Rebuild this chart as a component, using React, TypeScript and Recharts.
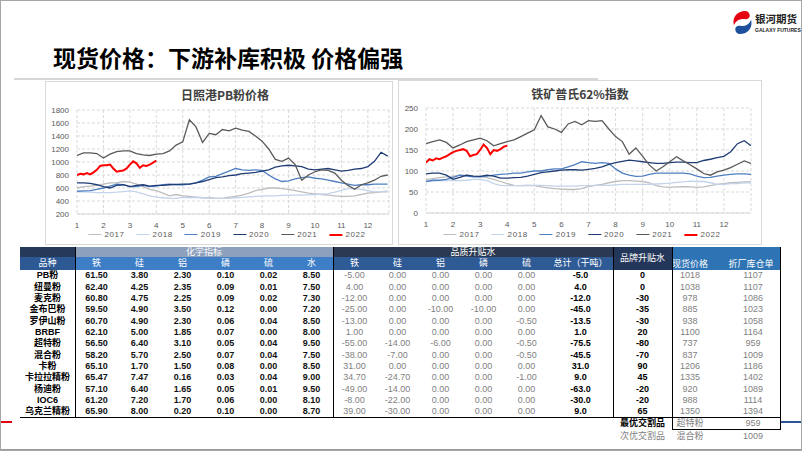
import { CartesianGrid, Line, LineChart, XAxis, YAxis } from "recharts";

const FONT = '"Liberation Sans", "Noto Sans CJK SC", sans-serif';
const CJK = '"Noto Sans CJK SC", "Liberation Sans", sans-serif';

const MONTHS = [1, 2, 3, 4, 5, 6, 7, 8, 9, 10, 11, 12];
const YEARS = ["2017", "2018", "2019", "2020", "2021", "2022"];
const COLORS = ["#bdbdbd", "#c3d3ea", "#4f7fc0", "#1f3c74", "#595959", "#ff0000"];

// 日照港PB粉 (元/吨), weekly-ish from month 1
const pb2017 = [600, 620, 630, 640, 660, 680, 680, 700, 690, 660, 620, 580, 560, 520, 480, 500, 480, 470, 460, 450, 450, 440, 440, 460, 470, 490, 520, 560, 580, 600, 600, 590, 580, 560, 540, 520, 510, 500, 490, 480, 470, 470, 480, 500, 520, 530, 540, 540];
const pb2018 = [540, 540, 535, 530, 530, 530, 535, 545, 555, 540, 510, 480, 460, 450, 440, 440, 455, 450, 455, 450, 445, 440, 440, 440, 450, 455, 465, 470, 475, 480, 480, 485, 490, 490, 490, 495, 500, 505, 515, 535, 565, 590, 590, 580, 560, 540, 545, 555];
const pb2019 = [550, 555, 560, 580, 600, 630, 660, 650, 620, 620, 640, 620, 630, 650, 660, 650, 650, 660, 680, 720, 770, 780, 820, 860, 900, 880, 870, 880, 870, 800, 740, 700, 710, 740, 760, 770, 750, 740, 720, 700, 680, 660, 640, 650, 650, 660, 660, 660];
const pb2020 = [680, 680, 670, 650, 620, 600, 640, 650, 620, 640, 650, 630, 640, 640, 650, 655, 660, 660, 680, 700, 730, 760, 770, 790, 800, 820, 830, 840, 860, 880, 920, 940, 950, 940, 930, 890, 880, 890, 900, 880, 860, 870, 890, 900, 930, 1010, 1150, 1090];
const pb2021 = [1100, 1140, 1140, 1130, 1060, 1120, 1160, 1170, 1170, 1130, 1110, 1100, 1120, 1130, 1170, 1260, 1310, 1650, 1540, 1300, 1440, 1420, 1500, 1480, 1520, 1490, 1470, 1400, 1320, 1200, 1040, 1010, 1060, 960, 720, 800, 850, 880, 870, 830, 720, 640, 580, 650, 680, 720, 780, 800];
const pb2022 = [800, 820, 810, 830, 810, 840, 880, 940, 950, 950, 960, 900, 850, 860, 870, 900, 960, 1010, 980, 910, 950, 940, 960, 990, 1020];
const PB_TICKS = [200, 400, 600, 800, 1000, 1200, 1400, 1600, 1800];

// 普氏62%指数 (美元/吨)
const pl2017 = [80, 82, 84, 86, 88, 90, 90, 88, 87, 84, 80, 75, 70, 66, 65, 66, 65, 62, 60, 58, 57, 56, 56, 58, 63, 66, 68, 72, 75, 77, 77, 76, 75, 72, 65, 62, 61, 62, 63, 62, 61, 62, 65, 68, 70, 72, 73, 74, 74];
const pl2018 = [75, 76, 77, 77, 78, 77, 78, 80, 80, 77, 70, 66, 65, 65, 65, 66, 66, 66, 65, 64, 64, 64, 64, 65, 65, 66, 66, 66, 67, 68, 68, 68, 68, 68, 69, 70, 71, 73, 74, 76, 75, 75, 72, 68, 68, 70, 70, 72, 72];
const pl2019 = [75, 78, 78, 80, 85, 90, 88, 86, 86, 88, 90, 92, 93, 95, 95, 98, 100, 100, 103, 105, 105, 110, 115, 122, 120, 118, 120, 118, 105, 95, 90, 87, 88, 92, 95, 95, 95, 95, 95, 93, 88, 84, 85, 88, 90, 92, 93, 93, 92];
const pl2020 = [93, 95, 95, 90, 80, 85, 90, 88, 87, 90, 88, 83, 83, 84, 85, 88, 92, 96, 98, 100, 102, 103, 103, 102, 104, 106, 110, 116, 120, 123, 126, 124, 122, 120, 118, 118, 120, 121, 121, 120, 120, 125, 128, 132, 135, 146, 165, 172, 160];
const pl2021 = [165, 170, 174, 168, 155, 162, 170, 174, 178, 172, 160, 165, 170, 174, 182, 190, 198, 232, 205, 200, 192, 212, 218, 210, 220, 218, 220, 200, 182, 170, 140, 155, 135, 114, 100, 110, 122, 134, 124, 115, 105, 94, 90, 98, 102, 108, 116, 124, 118];
const pl2022 = [120, 128, 125, 130, 128, 132, 135, 140, 145, 148, 150, 152, 148, 135, 138, 140, 150, 163, 155, 140, 150, 148, 152, 158, 160];
const PL_TICKS = [0, 50, 100, 150, 200, 250];

// table
const NAMES = ["PB粉", "纽曼粉", "麦克粉", "金布巴粉", "罗伊山粉", "BRBF", "超特粉", "混合粉", "卡粉", "卡拉拉精粉", "杨迪粉", "IOC6", "乌克兰精粉"];
const CHEM_HEADS = ["铁", "硅", "铝", "磷", "硫", "水"];
const chemFe = [61.5, 62.4, 60.8, 59.5, 60.7, 62.1, 56.5, 58.2, 65.1, 65.47, 57.1, 61.2, 65.9];
const chemSi = [3.8, 4.25, 4.75, 4.9, 4.9, 5.0, 6.4, 5.7, 1.7, 7.47, 6.4, 7.2, 8.0];
const chemAl = [2.3, 2.35, 2.25, 3.5, 2.3, 1.85, 3.1, 2.5, 1.5, 0.16, 1.65, 1.7, 0.2];
const chemP = [0.1, 0.09, 0.09, 0.12, 0.06, 0.07, 0.05, 0.07, 0.08, 0.03, 0.05, 0.06, 0.1];
const chemS = [0.02, 0.01, 0.02, 0.0, 0.04, 0.0, 0.04, 0.04, 0.0, 0.04, 0.01, 0.0, 0.0];
const chemH2O = [8.5, 7.5, 7.3, 7.2, 8.5, 8.0, 9.5, 7.5, 8.5, 9.0, 9.5, 8.1, 8.7];
const Q_HEADS = ["铁", "硅", "铝", "磷", "硫", "总计（干吨）"];
const qFe = [-5, 4, -12, -25, -13, 1, -55, -38, 31, 34.7, -49, -8, 39];
const qSi = [0, 0, 0, 0, 0, 0, -14, -7, 0, -24.7, -14, -22, -30];
const qAl = [0, 0, 0, -10, 0, 0, -6, 0, 0, 0, 0, 0, 0];
const qP = [0, 0, 0, -10, 0, 0, 0, 0, 0, 0, 0, 0, 0];
const qS = [0, 0, 0, 0, -0.5, 0, -0.5, -0.5, 0, -1, 0, 0, 0];
const qTotal = [-5, 4, -12, -45, -13.5, 1, -75.5, -45.5, 31, 9, -63, -30, 9];
const brand = [0, 0, -30, -35, -30, 20, -80, -70, 90, 45, -20, -20, 65];
const spot = [1018, 1038, 978, 885, 938, 1100, 737, 837, 1206, 1335, 920, 988, 1350];
const warehouse = [1107, 1107, 1086, 1023, 1058, 1164, 959, 1009, 1186, 1402, 1089, 1114, 1394];
const BEST = ["最优交割品", "超特粉", "959"];
const SECOND = ["次优交割品", "混合粉", "1009"];

const toPoints = (vals: number[], step: number) => vals.map((v, i) => ({ x: 1 + i * step, v }));

function YearChart({
  series,
  width,
  height,
  margin,
  yWidth,
  xHeight,
  xMax,
  yTicks,
}: {
  series: number[][];
  width: number;
  height: number;
  margin: { top: number; right: number; bottom: number; left: number };
  yWidth: number;
  xHeight: number;
  xMax: number;
  yTicks: number[];
}) {
  const tick = { fontSize: 8, fill: "#595959", fontFamily: FONT };
  return (
    <LineChart width={width} height={height} margin={margin}>
      <CartesianGrid stroke="#d9d9d9" strokeDasharray="3 2" />
      <XAxis
        type="number"
        dataKey="x"
        domain={[1, xMax]}
        ticks={MONTHS}
        interval={0}
        allowDataOverflow
        tickLine={false}
        axisLine={{ stroke: "#d9d9d9" }}
        tick={tick}
        height={xHeight}
      />
      <YAxis
        type="number"
        domain={[yTicks[0], yTicks[yTicks.length - 1]]}
        ticks={yTicks}
        interval={0}
        width={yWidth}
        tickLine={false}
        axisLine={false}
        tick={tick}
      />
      {series.map((s, i) => (
        <Line
          key={YEARS[i]}
          data={toPoints(s, i === 5 ? 0.125 : 0.25)}
          dataKey="v"
          type="linear"
          stroke={COLORS[i]}
          strokeWidth={i === 5 ? 2 : 1.3}
          dot={false}
          isAnimationActive={false}
        />
      ))}
    </LineChart>
  );
}

function YearLegend({ cx, top }: { cx: number; top: number }) {
  return (
    <div
      style={{
        position: "absolute",
        left: cx,
        top,
        transform: "translateX(-50%)",
        display: "flex",
        gap: 12,
        fontSize: 8,
        color: "#595959",
        fontFamily: FONT,
        whiteSpace: "nowrap",
        letterSpacing: 0.6,
      }}
    >
      {YEARS.map((y, i) => (
        <div key={y} style={{ display: "flex", alignItems: "center", gap: 3 }}>
          <span style={{ width: 13, height: i === 5 ? 2 : 1.5, background: COLORS[i] }} />
          <span>{y}</span>
        </div>
      ))}
    </div>
  );
}

type Col = { l: number; r: number };
const chemCols: Col[] = CHEM_HEADS.map((_, i) => ({ l: 75 + 43 * i, r: 118 + 43 * i }));
const qCols: Col[] = [0, 1, 2, 3, 4].map((i) => ({ l: 333 + 43 * i, r: 376 + 43 * i })).concat([{ l: 548, r: 613 }]);
const nameCol: Col = { l: 20, r: 75 };
const brandCol: Col = { l: 613, r: 672 };
const spotCol: Col = { l: 672, r: 708 };
const whCol: Col = { l: 724, r: 782 };

const ROW_TOP = 270.3;
const ROW_H = 11.32;

function T({
  col,
  top,
  h,
  text,
  color = "#000",
  bold = false,
  size = 9,
}: {
  col: Col;
  top: number;
  h: number;
  text: string;
  color?: string;
  bold?: boolean;
  size?: number;
}) {
  return (
    <div
      style={{
        position: "absolute",
        left: col.l,
        width: col.r - col.l,
        top,
        height: h,
        lineHeight: `${h}px`,
        textAlign: "center",
        fontSize: size,
        fontWeight: bold ? 700 : 400,
        color,
        fontFamily: FONT,
        whiteSpace: "nowrap",
      }}
    >
      {text}
    </div>
  );
}

function Box({ l, t, w, h, bg }: { l: number; t: number; w: number; h: number; bg: string }) {
  return <div style={{ position: "absolute", left: l, top: t, width: w, height: h, background: bg }} />;
}

function PriceTable() {
  const chem = [chemFe, chemSi, chemAl, chemP, chemS, chemH2O];
  const qual = [qFe, qSi, qAl, qP, qS];
  const gray = "#7f7f7f";
  return (
    <>
      {/* header backgrounds */}
      <Box l={20} t={246.5} w={55} h={10.5} bg="#25395a" />
      <Box l={20} t={257} w={55} h={13.3} bg="#2c5894" />
      <Box l={75} t={246.5} w={258} h={10.5} bg="#8ea1bc" />
      <Box l={75} t={257} w={258} h={13.3} bg="#3d7ec6" />
      <Box l={333} t={246.5} w={280} h={10.5} bg="#2b3a52" />
      <Box l={333} t={257} w={280} h={13.3} bg="#2e5a96" />
      <Box l={613} t={246.5} w={59} h={23.8} bg="#23375a" />
      <Box l={672} t={246.5} w={108} h={23.8} bg="#2e74b5" />
      <T col={{ l: 75, r: 333 }} top={246.5} h={10.5} text="化学指标" color="#fff" />
      <T col={{ l: 333, r: 613 }} top={246.5} h={10.5} text="品质升贴水" color="#fff" />
      <T col={brandCol} top={252} h={12} text="品牌升贴水" color="#fff" />
      <T col={nameCol} top={257} h={13.3} text="品种" color="#fff" />
      {CHEM_HEADS.map((h, i) => (
        <T key={"ch" + i} col={chemCols[i]} top={257} h={13.3} text={h} color="#fff" />
      ))}
      {Q_HEADS.map((h, i) => (
        <T key={"qh" + i} col={qCols[i]} top={257} h={13.3} text={h} color="#fff" />
      ))}
      <T col={spotCol} top={258} h={13.3} text="现货价格" color="#fff" />
      <T col={{ l: 724, r: 778 }} top={258} h={13.3} text="折厂库仓单" color="#fff" />

      {/* rows */}
      {NAMES.map((n, r) => {
        const top = ROW_TOP + r * ROW_H;
        return (
          <div key={n}>
            <T col={nameCol} top={top} h={ROW_H} text={n} bold />
            {chem.map((c, i) => (
              <T key={"c" + i} col={chemCols[i]} top={top} h={ROW_H} text={c[r].toFixed(2)} bold color="#111" />
            ))}
            {qual.map((q, i) => (
              <T key={"q" + i} col={qCols[i]} top={top} h={ROW_H} text={q[r].toFixed(2)} color={gray} />
            ))}
            <T col={qCols[5]} top={top} h={ROW_H} text={qTotal[r].toFixed(1)} bold />
            <T col={brandCol} top={top} h={ROW_H} text={String(brand[r])} bold />
            <T col={spotCol} top={top} h={ROW_H} text={String(spot[r])} color={gray} />
            <T col={whCol} top={top} h={ROW_H} text={String(warehouse[r])} color={gray} />
          </div>
        );
      })}

      {/* borders */}
      <Box l={74.5} t={246.5} w={1.2} h={171} bg="#000" />
      <Box l={332.5} t={246.5} w={1.2} h={171} bg="#000" />
      <Box l={612.5} t={246.5} w={1.2} h={171} bg="#000" />
      <Box l={671.5} t={246.5} w={1.2} h={183} bg="#000" />
      <Box l={779.5} t={246.5} w={1.2} h={183} bg="#000" />
      <Box l={20} t={417} w={760} h={1.2} bg="#000" />
      <Box l={672} t={428.8} w={108.5} h={1.2} bg="#000" />

      {/* delivery rows */}
      <T col={brandCol} top={418} h={11} text={BEST[0]} bold />
      <T col={spotCol} top={418} h={11} text={BEST[1]} color={gray} />
      <T col={whCol} top={418} h={11} text={BEST[2]} color={gray} />
      <T col={brandCol} top={430.5} h={11} text={SECOND[0]} color={gray} />
      <T col={spotCol} top={430.5} h={11} text={SECOND[1]} color={gray} />
      <T col={whCol} top={430.5} h={11} text={SECOND[2]} color={gray} />
    </>
  );
}

function Logo() {
  return (
    <>
      <svg style={{ position: "absolute", left: 732, top: 10 }} width={21} height={25} viewBox="0 0 22 26">
        <path d="M14 1 C5 1 0 8 2 16 C4 11 8 9 14 9.5 C17 9.7 19 8 18.5 5 C18 2.5 16 1 14 1 Z" fill="#e50012" />
        <path d="M8 25 C17 25 22 18 20 10 C18 15 14 17 8 16.5 C5 16.3 3 18 3.5 21 C4 23.5 6 25 8 25 Z" fill="#1d4f9c" />
      </svg>
      <div
        style={{
          position: "absolute",
          left: 755,
          top: 12,
          fontSize: 10.5,
          fontWeight: 700,
          fontFamily: CJK,
          color: "#222",
          lineHeight: "13px",
          whiteSpace: "nowrap",
        }}
      >
        银河期货
      </div>
      <div
        style={{
          position: "absolute",
          left: 755,
          top: 27,
          fontSize: 5,
          fontWeight: 700,
          fontFamily: FONT,
          color: "#222",
          lineHeight: "6px",
          whiteSpace: "nowrap",
        }}
      >
        GALAXY FUTURES
      </div>
    </>
  );
}

export default function App() {
  return (
    <div
      style={{
        position: "absolute",
        left: 0,
        top: 0,
        width: 802,
        height: 451,
        background: "#fff",
        overflow: "hidden",
        fontFamily: FONT,
      }}
    >
      <div
        style={{
          position: "absolute",
          left: 53,
          top: 43,
          fontSize: 23,
          fontWeight: 700,
          fontFamily: CJK,
          color: "#000",
          lineHeight: "28px",
          whiteSpace: "nowrap",
        }}
      >
        现货价格：下游补库积极 价格偏强
      </div>
      <Logo />
      <Box l={14} t={78} w={584} h={2} bg="#d6d6d6" />

      {/* left chart panel */}
      <div style={{ position: "absolute", left: 45, top: 81, width: 348, height: 164, border: "1px solid #d9d9d9", boxSizing: "border-box" }} />
      <div style={{ position: "absolute", left: 125, top: 87, width: 200, textAlign: "center", fontSize: 12, fontWeight: 700, fontFamily: CJK, color: "#404040", lineHeight: "15px" }}>
        日照港PB粉价格
      </div>
      <div style={{ position: "absolute", left: 45, top: 81 }}>
        <YearChart
          series={[pb2017, pb2018, pb2019, pb2020, pb2021, pb2022]}
          width={348}
          height={150}
          margin={{ top: 29, right: 4, bottom: 0, left: 2 }}
          yWidth={30}
          xHeight={17}
          xMax={12.8}
          yTicks={PB_TICKS}
        />
      </div>
      <YearLegend cx={227} top={230} />

      {/* right chart panel */}
      <div style={{ position: "absolute", left: 398, top: 80, width: 364, height: 165, border: "1px solid #d9d9d9", boxSizing: "border-box" }} />
      <div style={{ position: "absolute", left: 480, top: 86, width: 200, textAlign: "center", fontSize: 12, fontWeight: 700, fontFamily: CJK, color: "#404040", lineHeight: "15px" }}>
        铁矿普氏62%指数
      </div>
      <div style={{ position: "absolute", left: 398, top: 81 }}>
        <YearChart
          series={[pl2017, pl2018, pl2019, pl2020, pl2021, pl2022]}
          width={364}
          height={150}
          margin={{ top: 27, right: 11, bottom: 0, left: 2 }}
          yWidth={26}
          xHeight={18}
          xMax={13}
          yTicks={PL_TICKS}
        />
      </div>
      <YearLegend cx={582} top={230} />

      <PriceTable />

      {/* slide decorations */}
      <Box l={0} t={420.5} w={12} h={2} bg="#e50012" />
      <Box l={781} t={420.5} w={21} h={2} bg="#2f5597" />
      <Box l={0} t={449} w={802} h={1.5} bg="#9a9a9a" />
      <div style={{ position: "absolute", left: 0, top: 0, width: 802, height: 451, border: "1px solid #a6a6a6", boxSizing: "border-box", pointerEvents: "none" }} />
    </div>
  );
}
